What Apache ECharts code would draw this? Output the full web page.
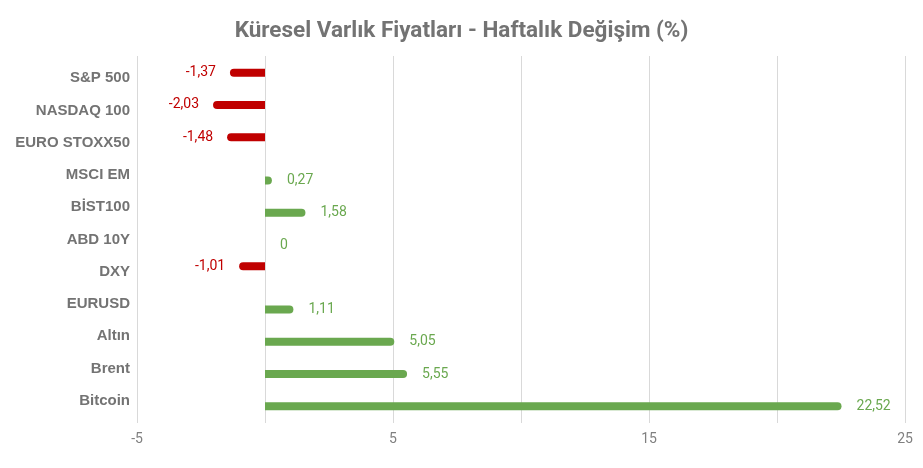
<!DOCTYPE html>
<html>
<head>
<meta charset="utf-8">
<script src="https://cdn.jsdelivr.net/npm/echarts@6/dist/echarts.min.js"></script>
<style>html,body{margin:0;padding:0;background:#fff;}#c{width:923px;height:468px;}</style>
</head>
<body>
<div id="c"></div>
<script>
const title = 'Küresel Varlık Fiyatları - Haftalık Değişim (%)';
const categories = ['S&P 500','NASDAQ 100','EURO STOXX50','MSCI EM','BİST100','ABD 10Y','DXY','EURUSD','Altın','Brent','Bitcoin'];
const changes = [-1.37,-2.03,-1.48,0.27,1.58,0,-1.01,1.11,5.05,5.55,22.52];
const xMin = -5, xMax = 25, xStep = 5;
const xTickLabels = [-5, 5, 15, 25];

const RED = '#c00000', GREEN = '#6aa84f';
const fmt = v => String(v).replace('.', ',');

const negData = changes.map(v => v < 0 ? v : '-');
const posData = changes.map(v => v >= 0 ? v : '-');

const chart = echarts.init(document.getElementById('c'), null, {renderer: 'canvas'});
chart.setOption({
  animation: false,
  title: {
    text: title, left: 'center', top: 15,
    textStyle: {fontFamily: 'Roboto', fontWeight: 'bold', fontSize: 22.5, color: '#737373'}
  },
  grid: [
    {left: 137, right: 18, top: 62, bottom: 51},
    {left: 137, right: 18, top: 56, bottom: 45}
  ],
  xAxis: [
    {type: 'value', gridIndex: 0, min: xMin, max: xMax, interval: xStep, show: false},
    {type: 'value', gridIndex: 1, min: xMin, max: xMax, interval: xStep,
      axisLine: {show: false}, axisTick: {show: false},
      splitLine: {show: true, lineStyle: {color: '#d9d9d9', width: 1}},
      axisLabel: {
        margin: 9, color: '#808080', fontFamily: 'Roboto', fontSize: 14,
        formatter: v => xTickLabels.indexOf(v) >= 0 ? String(v) : ''
      }
    }
  ],
  yAxis: [
    {type: 'category', gridIndex: 0, data: categories, inverse: true,
      axisLine: {show: false}, axisTick: {show: false}, splitLine: {show: false},
      axisLabel: {margin: 7, color: '#737373', fontFamily: 'Liberation Sans', fontWeight: 'bold', fontSize: 15}
    },
    {type: 'value', gridIndex: 1, show: false, min: 0, max: 1}
  ],
  series: [
    {
      type: 'bar', name: 'neg', xAxisIndex: 0, yAxisIndex: 0,
      data: negData, barWidth: 8, barGap: '37.5%',
      itemStyle: {color: RED, borderRadius: [4, 0, 0, 4]},
      label: {show: true, position: 'left', distance: 14, color: RED,
        fontFamily: 'Roboto', fontSize: 14, formatter: p => fmt(p.value)}
    },
    {
      type: 'bar', name: 'pos', xAxisIndex: 0, yAxisIndex: 0,
      data: posData, barWidth: 8, barGap: '37.5%',
      itemStyle: {color: GREEN, borderRadius: [0, 4, 4, 0]},
      label: {show: true, position: 'right', distance: 15, color: GREEN,
        fontFamily: 'Roboto', fontSize: 14, formatter: p => fmt(p.value)}
    }
  ]
});
</script>
</body>
</html>
